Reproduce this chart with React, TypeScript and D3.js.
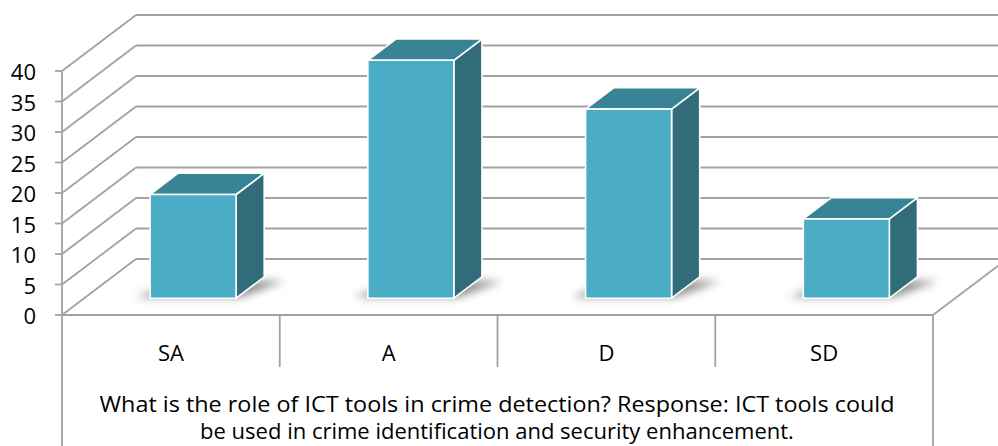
import React from 'react'
import * as d3 from 'd3'

const categories = ['SA', 'A', 'D', 'SD']
const values = [17, 39, 31, 13]
const yTicks = [0, 5, 10, 15, 20, 25, 30, 35, 40]
const titleLines = [
  'What is the role of ICT tools in crime detection? Response: ICT tools could',
  'be used in crime identification and security enhancement.',
]

const W = 998
const H = 446
const left = 62
const right = 933
const floorY = 315
const topY = 71
// full depth of the 3d box
const DX = 74
const DY = -56
const barPlane = 0.3
const barDepth = 0.38
const gridColor = '#a2a2a2'
const font = '"Open Sans", sans-serif'

const x = d3.scaleBand().domain(categories).range([left, right])
const y = d3.scaleLinear().domain([0, 40]).range([floorY, topY])

const App = () => {
  const ox = DX * barPlane
  const oy = DY * barPlane
  const dx = DX * barDepth
  const dy = DY * barDepth
  const barW = x.bandwidth() * 0.395

  return (
    <svg width={W} height={H} style={{ position: 'fixed', left: 0, top: 0, background: '#fff' }}>
      <defs>
        <filter id="shadow" x="-30%" y="-100%" width="160%" height="300%">
          <feGaussianBlur stdDeviation="4" />
        </filter>
      </defs>

      {/* back wall + side wall gridlines */}
      {yTicks.map(t => (
        <g key={t}>
          <line x1={left} y1={y(t)} x2={left + DX} y2={y(t) + DY} stroke={gridColor} strokeWidth={1.8} />
          <line x1={left + DX} y1={y(t) + DY} x2={W + 20} y2={y(t) + DY} stroke={gridColor} strokeWidth={1.8} />
          <line x1={left - 7} y1={y(t)} x2={left} y2={y(t)} stroke={gridColor} strokeWidth={1.8} />
          <text
            x={36}
            y={y(t)}
            textAnchor="end"
            dominantBaseline="central"
            fontFamily={font}
            fontSize={22}
            fill="#000"
          >
            {t}
          </text>
        </g>
      ))}

      {/* floor */}
      <line x1={left} y1={floorY} x2={right} y2={floorY} stroke={gridColor} strokeWidth={1.8} />
      <line x1={right} y1={floorY} x2={right + DX} y2={floorY + DY} stroke={gridColor} strokeWidth={1.8} />
      <line x1={left} y1={topY} x2={left} y2={H} stroke={gridColor} strokeWidth={1.8} />
      <line x1={right} y1={floorY} x2={right} y2={H} stroke={gridColor} strokeWidth={1.8} />
      {categories.slice(1).map(c => (
        <line key={c} x1={x(c)!} y1={floorY} x2={x(c)!} y2={367} stroke={gridColor} strokeWidth={1.8} />
      ))}

      {/* bars */}
      {categories.map((c, i) => {
        const x0 = x(c)! + x.bandwidth() / 2 - barW / 2 + ox
        const x1 = x0 + barW
        const yb = y(0) + oy
        const yt = y(values[i]) + oy
        const front = `M${x0},${yt}L${x1},${yt}L${x1},${yb}L${x0},${yb}Z`
        const top = `M${x0},${yt}L${x0 + dx},${yt + dy}L${x1 + dx},${yt + dy}L${x1},${yt}Z`
        const side = `M${x1},${yt}L${x1 + dx},${yt + dy}L${x1 + dx},${yb + dy}L${x1},${yb}Z`
        const shadow = `M${x0 - 14},${yb - 1}L${x0 + dx},${yb + dy + 4}L${x1 + dx + 20},${yb + dy + 4}L${x1 + 4},${yb - 1}Z`
        return (
          <g key={c}>
            <path d={shadow} fill="#666" opacity={0.75} filter="url(#shadow)" />
            <path d={side} fill="#306c79" stroke="#fff" strokeWidth={1.6} strokeLinejoin="round" />
            <path d={top} fill="#388396" stroke="#fff" strokeWidth={1.6} strokeLinejoin="round" />
            <path d={front} fill="#4bacc6" stroke="#fff" strokeWidth={1.6} strokeLinejoin="round" />
          </g>
        )
      })}

      {/* category labels */}
      {categories.map(c => (
        <text
          key={c}
          x={x(c)! + x.bandwidth() / 2}
          y={352}
          textAnchor="middle"
          dominantBaseline="central"
          fontFamily={font}
          fontSize={22}
          fill="#000"
        >
          {c}
        </text>
      ))}

      {titleLines.map((l, i) => (
        <text
          key={i}
          x={497}
          y={403 + i * 27}
          textAnchor="middle"
          dominantBaseline="central"
          fontFamily={font}
          fontSize={22}
          fill="#000"
          textLength={i === 0 ? 795 : undefined}
          lengthAdjust="spacingAndGlyphs"
        >
          {l}
        </text>
      ))}
    </svg>
  )
}

export default App
